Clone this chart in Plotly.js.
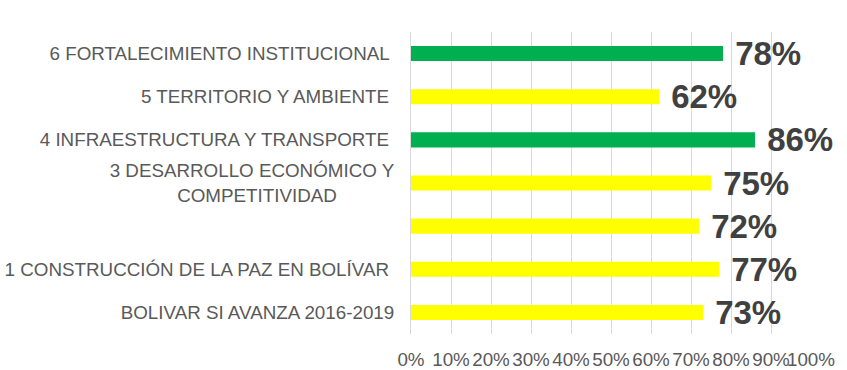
<!DOCTYPE html>
<html>
<head>
<meta charset="utf-8">
<script src="https://cdn.plot.ly/plotly-3.0.1.min.js"></script>
<style>html,body{margin:0;padding:0;background:#fff;}#chart{width:847px;height:370px;}</style>
</head>
<body>
<div id="chart"></div>
<script>
// Categories listed bottom to top
var categories = [
  "BOLIVAR SI AVANZA 2016-2019",
  "1 CONSTRUCCIÓN DE LA PAZ EN BOLÍVAR ",
  " ",
  "3 DESARROLLO ECONÓMICO Y<br>COMPETITIVIDAD           ",
  "4 INFRAESTRUCTURA Y TRANSPORTE ",
  "5 TERRITORIO Y AMBIENTE ",
  "6 FORTALECIMIENTO INSTITUCIONAL "
];
var values = [0.73, 0.77, 0.72, 0.75, 0.86, 0.62, 0.78];
var barColors = ["#FFFF00", "#FFFF00", "#FFFF00", "#FFFF00", "#00B050", "#FFFF00", "#00B050"];
var xTickVals = [0, 0.1, 0.2, 0.3, 0.4, 0.5, 0.6, 0.7, 0.8, 0.9, 1.0];

var trace = {
  type: "bar",
  orientation: "h",
  x: values,
  y: categories,
  width: 0.35,
  marker: {color: barColors, line: {width: 0}},
  texttemplate: " %{x:.0%}",
  textposition: "outside",
  constraintext: "none",
  cliponaxis: false,
  textfont: {family: "Liberation Sans, Arial, sans-serif", size: 33, color: "#404040", weight: "bold"},
  hoverinfo: "skip"
};

var layout = {
  width: 847,
  height: 370,
  margin: {l: 411, r: 36, t: 32, b: 36, pad: 0},
  paper_bgcolor: "#ffffff",
  plot_bgcolor: "#ffffff",
  showlegend: false,
  hovermode: false,
  font: {family: "Liberation Sans, Arial, sans-serif", size: 18.8, color: "#595959"},
  xaxis: {
    range: [0, 1],
    tickvals: xTickVals,
    tickformat: ".0%",
    tickangle: 0,
    showgrid: true,
    gridcolor: "#D9D9D9",
    gridwidth: 1,
    zeroline: false,
    showline: false,
    ticks: "",
    ticklabelstandoff: 12,
    tickfont: {size: 18.8, color: "#595959"},
    fixedrange: true
  },
  yaxis: {
    type: "category",
    categoryorder: "array",
    categoryarray: categories,
    range: [-0.5, 6.5],
    showgrid: false,
    zeroline: false,
    showline: true,
    linecolor: "#D9D9D9",
    linewidth: 1,
    ticks: "",
    ticklabelstandoff: 12,
    tickfont: {size: 18.8, color: "#595959"},
    fixedrange: true
  }
};

Plotly.newPlot("chart", [trace], layout, {displayModeBar: false, staticPlot: true});
</script>
</body>
</html>
